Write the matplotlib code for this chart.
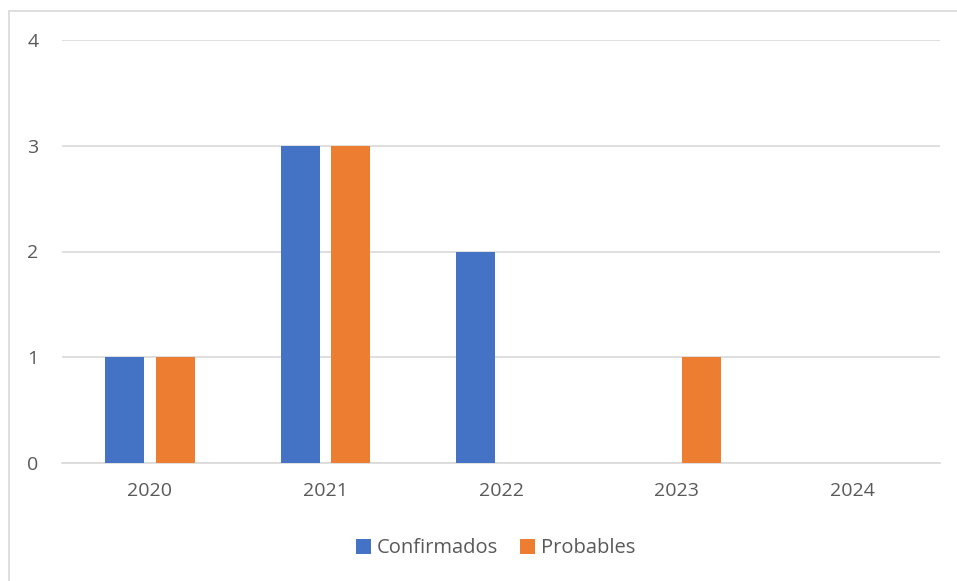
import numpy as np
import matplotlib.pyplot as plt
from matplotlib.patches import Rectangle

# Data
years = ['2020', '2021', '2022', '2023', '2024']
confirmados = [1, 3, 2, 0, 0]
probables = [1, 3, 0, 1, 0]

plt.rcParams['font.family'] = ['Open Sans', 'DejaVu Sans']

fig = plt.figure(figsize=(9.57, 5.81), dpi=100)
W, H = 957, 581
ax = fig.add_axes([62 / W, 1 - 463 / H, 878 / W, 423 / H])

# Chart border
fig.patches.append(Rectangle((9 / W, -0.05), 1.1, 1 - 11 / H + 0.05, transform=fig.transFigure,
                             fill=False, edgecolor='#d9d9d9', linewidth=1.2))

x = np.arange(len(years))
w = 0.222
off = 0.144
ax.bar(x - off, confirmados, width=w, color='#4472c4', label='Confirmados', zorder=3)
ax.bar(x + off, probables, width=w, color='#ed7d31', label='Probables', zorder=3)

ax.set_xlim(-0.5, 4.5)
ax.set_ylim(0, 4)
ax.set_yticks([0, 1, 2, 3, 4])
ax.set_xticks(x)
ax.set_xticklabels(years)
ax.yaxis.grid(True, color='#d9d9d9', linewidth=1.2, zorder=0)
ax.set_axisbelow(True)
for s in ['top', 'right', 'left']:
    ax.spines[s].set_visible(False)
ax.spines['bottom'].set_color('#d9d9d9')
ax.spines['bottom'].set_linewidth(1.2)
ax.tick_params(axis='both', length=0, labelsize=14, labelcolor='#595959')
ax.tick_params(axis='y', pad=17)
ax.tick_params(axis='x', pad=14)

ax.legend(loc='upper center', bbox_to_anchor=(0.494, -0.135), ncol=2, frameon=False,
          fontsize=14.5, labelcolor='#595959', handlelength=0.75, handleheight=0.75,
          handletextpad=0.3, columnspacing=1.1)

fig.savefig('out.png', dpi=100)
